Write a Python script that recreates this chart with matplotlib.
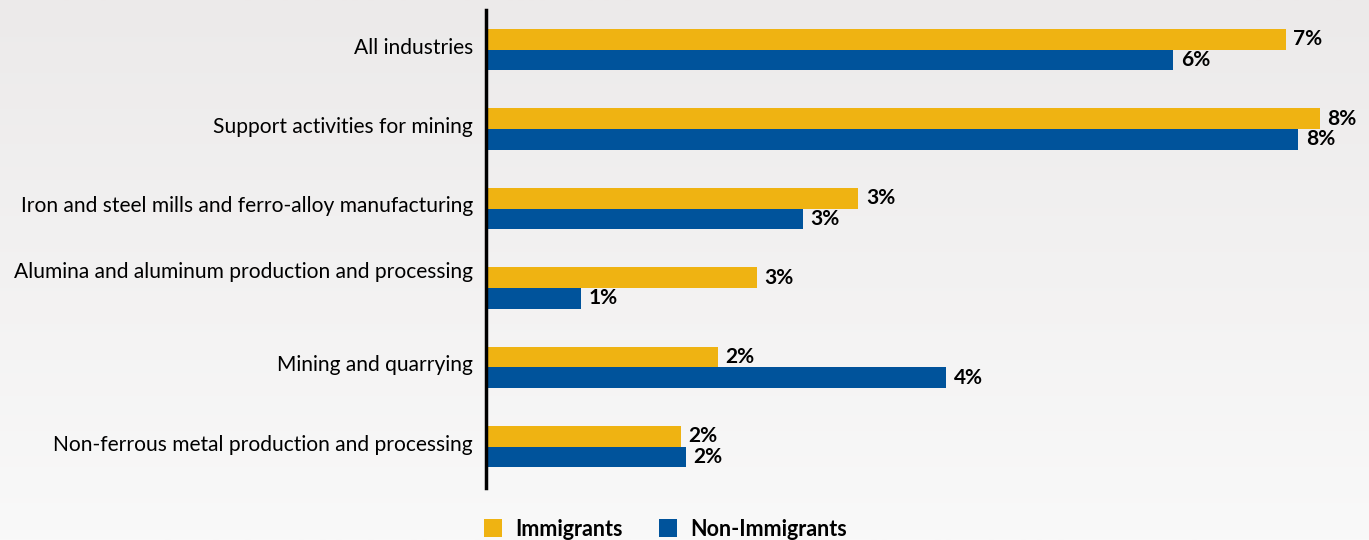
import numpy as np
import matplotlib.pyplot as plt
from matplotlib.transforms import offset_copy

categories = ["All industries",
              "Support activities for mining",
              "Iron and steel mills and ferro-alloy manufacturing",
              "Alumina and aluminum production and processing",
              "Mining and quarrying",
              "Non-ferrous metal production and processing"]
immigrants = [7.47, 7.79, 3.48, 2.53, 2.17, 1.82]
non_immigrants = [6.42, 7.59, 2.96, 0.89, 4.30, 1.87]

gold = '#EFB312'
blue = '#00539B'

plt.rcParams['font.family'] = ['Lato', 'DejaVu Sans']

fig = plt.figure(figsize=(13.69, 5.40), dpi=100)

# fond en dégradé vertical
bg = fig.add_axes([0, 0, 1, 1], zorder=-10)
grad = np.linspace(0, 1, 256).reshape(-1, 1)
c_top = np.array([0xEC, 0xEA, 0xEA]) / 255
c_bot = np.array([0xF9, 0xF9, 0xF9]) / 255
img = c_top + (c_bot - c_top) * grad[:, :, None]
bg.imshow(img, aspect='auto', extent=[0, 1, 0, 1])
bg.axis('off')

ax = fig.add_axes([486 / 1369, 52 / 540, 1 - 486 / 1369, 478 / 540])
ax.patch.set_alpha(0)

y = np.arange(len(categories))
h = 0.26
ax.barh(y - h / 2, immigrants, height=h, color=gold, label='Immigrants')
ax.barh(y + h / 2, non_immigrants, height=h, color=blue, label='Non-Immigrants')

for yi, v in zip(y, immigrants):
    ax.text(v + 0.07, yi - h / 2, f"{round(v)}%", va='center', ha='left',
            fontsize=15, fontweight='bold', color='black')
for yi, v in zip(y, non_immigrants):
    ax.text(v + 0.07, yi + h / 2, f"{round(v)}%", va='center', ha='left',
            fontsize=15, fontweight='bold', color='black')

# étiquettes des catégories (légèrement remontées, celle de l'alumine davantage)
for yi, lab in zip(y, categories):
    dy = 11.5 if lab.startswith("Alumina") else 1.5
    tr = offset_copy(ax.get_yaxis_transform(), fig=fig, x=-9.5, y=dy, units='points')
    ax.text(0, yi, lab, transform=tr, ha='right', va='center', fontsize=15.1)

ax.set_xlim(0, 8.25)
ax.set_ylim(5.52, -0.5)
ax.set_yticks([])
ax.set_xticks([])
for s in ['top', 'right', 'bottom']:
    ax.spines[s].set_visible(False)
ax.spines['left'].set_linewidth(2.5)

leg = fig.legend(loc='lower center', bbox_to_anchor=(0.486, -0.035), ncol=2, frameon=False,
                 handlelength=0.85, handleheight=0.85, columnspacing=1.7, handletextpad=0.6,
                 prop={'weight': 'bold', 'size': 15.5})

fig.savefig('out.png', dpi=100)
